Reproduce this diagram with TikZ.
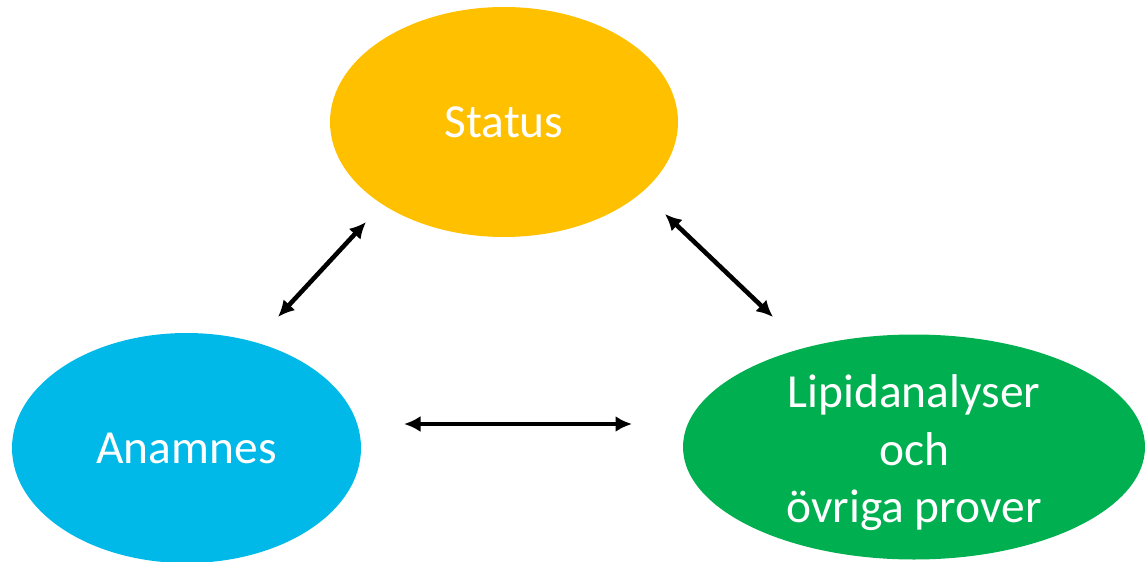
\documentclass[tikz,border=0pt]{standalone}
\usepackage{fontspec}
\setmainfont{Carlito}
\usetikzlibrary{arrows.meta,positioning,shapes.geometric}
\definecolor{statusyellow}{HTML}{FFC000}
\definecolor{anamblue}{HTML}{00B9E8}
\definecolor{lipidgreen}{HTML}{00B050}
\begin{document}
\begin{tikzpicture}[every node/.style={font=\fontsize{27}{32.5}\selectfont}, blob/.style={ellipse, fill, text=white, align=center, inner sep=0pt}, arrow/.style={{Latex[length=3.3mm,width=3.2mm]}-{Latex[length=3.3mm,width=3.2mm]}, line width=2.6pt}]
\useasboundingbox (0,0) rectangle (22.9,11.22);
\node[blob, fill=statusyellow, minimum width=6.96cm, minimum height=4.6cm] (status) at (10.08,8.78) {Status};
\node[blob, fill=anamblue, minimum width=6.98cm, minimum height=4.6cm] (anamnes) at (3.73,2.26) {Anamnes};
\node[blob, fill=lipidgreen, minimum width=9.24cm, minimum height=4.5cm] (lipid) at (18.28,2.28) {\raisebox{-10pt}[0pt][0pt]{\begin{tabular}{@{}c@{}}Lipidanalyser\\och\\övriga prover\end{tabular}}};
% arrow ends
\coordinate (sa1) at (7.32,6.78);
\coordinate (sa2) at (5.56,4.88);
\coordinate (sl1) at (13.30,6.94);
\coordinate (sl2) at (15.46,4.88);
\coordinate (al1) at (8.08,2.74);
\coordinate (al2) at (12.64,2.74);
\draw[arrow] (sa2) -- (sa1);
\draw[arrow] (sl1) -- (sl2);
\draw[arrow] (al1) -- (al2);
\end{tikzpicture}
\end{document}
